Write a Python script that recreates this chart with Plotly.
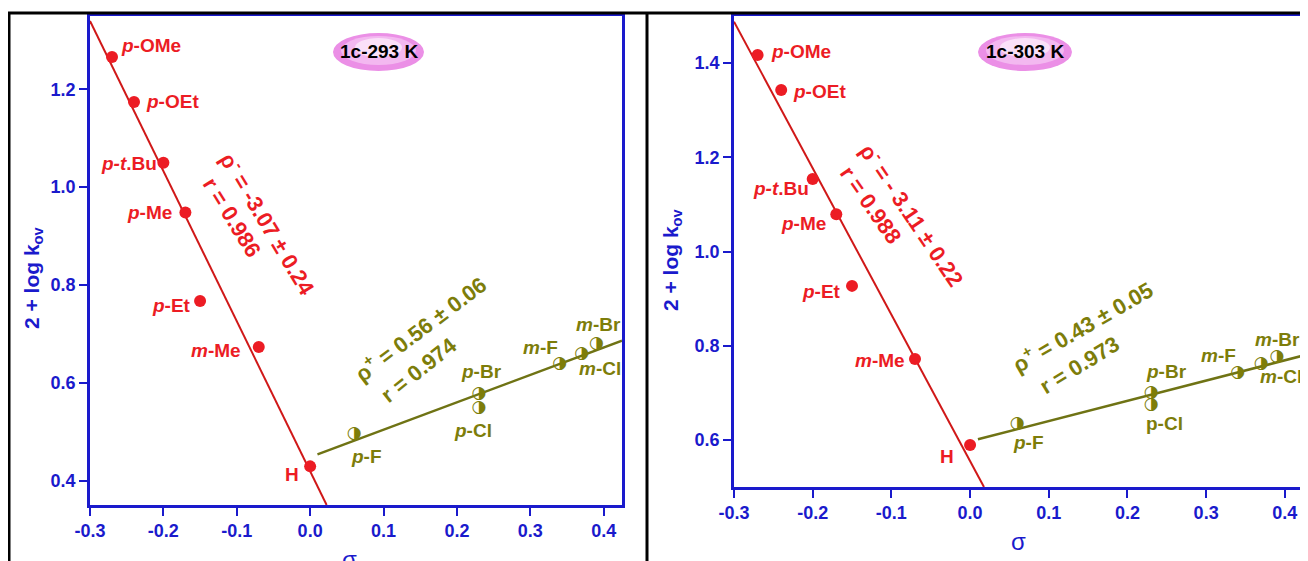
import plotly.graph_objects as go

W, H = 1308, 561
OFF = 8  # page body margin compensation

# ---------------- data ----------------
red_subs = ["p-OMe", "p-OEt", "p-t.Bu", "p-Me", "p-Et", "m-Me", "H"]
red_sigma = [-0.27, -0.24, -0.20, -0.17, -0.15, -0.07, 0.00]
red_293 = [1.266, 1.174, 1.050, 0.948, 0.767, 0.673, 0.429]
red_303 = [1.417, 1.343, 1.154, 1.079, 0.927, 0.772, 0.589]

olive_subs = ["p-F", "p-Br", "p-Cl", "m-F", "m-Cl", "m-Br"]
olive_sigma = [0.06, 0.23, 0.23, 0.34, 0.37, 0.39]
olive_293 = [0.496, 0.578, 0.548, 0.638, 0.660, 0.680]
olive_303 = [0.635, 0.700, 0.674, 0.743, 0.762, 0.777]

# fitted Hammett lines (slope, intercept)
fit_red_293 = (-3.07, 0.419)
fit_red_303 = (-3.11, 0.555)
fit_olive_293 = (0.56, 0.448)
fit_olive_303 = (0.43, 0.597)

x_tickvals = [-0.3, -0.2, -0.1, 0.0, 0.1, 0.2, 0.3, 0.4]
x_ticktext = ["-0.3", "-0.2", "-0.1", "0.0", "0.1", "0.2", "0.3", "0.4"]
y_tickvals_293 = [0.4, 0.6, 0.8, 1.0, 1.2]
y_tickvals_303 = [0.6, 0.8, 1.0, 1.2, 1.4]
y_ticktext_293 = ["0.4", "0.6", "0.8", "1.0", "1.2"]
y_ticktext_303 = ["0.6", "0.8", "1.0", "1.2", "1.4"]

panel_titles = ["1c-293 K", "1c-303 K"]
eq_red = ["\u03c1<sup>-</sup> = -3.07 \u00b1 0.24", "\u03c1<sup>-</sup> = - 3.11 \u00b1 0.22"]
r_red = ["r = 0.986", "r = 0.988"]
eq_olive = ["\u03c1<sup>+</sup> = 0.56 \u00b1 0.06", "\u03c1<sup>+</sup> = 0.43 \u00b1 0.05"]
r_olive = ["r = 0.974", "r = 0.973"]

# label markup
label_html = {
    "p-OMe": "<i>p</i>-OMe", "p-OEt": "<i>p</i>-OEt", "p-t.Bu": "<i>p-t</i>.Bu",
    "p-Me": "<i>p</i>-Me", "p-Et": "<i>p</i>-Et", "m-Me": "<i>m</i>-Me", "H": "H",
    "p-F": "<i>p</i>-F", "p-Br": "<i>p</i>-Br", "p-Cl": "<i>p</i>-Cl",
    "m-F": "<i>m</i>-F", "m-Cl": "<i>m</i>-Cl", "m-Br": "<i>m</i>-Br",
}

# ---------------- styles / layout ----------------
RED = "#ec1c24"
RED_LINE = "#d01818"
OLIVE = "#7d7d0a"
OLIVE_LINE = "#6f7314"
BLUE = "#1a1acc"
FONT = "Liberation Sans, Arial, sans-serif"

X_RANGE = [-0.3, 0.425]
Y_RANGE_293 = [0.35, 1.35]
Y_RANGE_303 = [0.5, 1.5]

def px(x):
    return (x - OFF) / W

def py(y):
    return 1 - (y - OFF) / H

# label offsets (anchor, dx, dy in px; dy downward)
off_red_293 = [("left", 7, -12), ("left", 10, -1), ("right", -4, 1), ("right", -11, 0),
               ("right", -7, 4), ("right", -16, 3), ("right", -9, 8)]
off_olive_293 = [("left", -5, 23), ("center", 3, -22), ("center", -6, 22),
                 ("right", 0, -17), ("left", -5, 15), ("center", 2, -19)]
off_red_303 = [("left", 11, -4), ("left", 10, 2), ("right", -2, 10), ("right", -8, 9),
               ("right", -9, 6), ("right", -8, 2), ("right", -14, 11)]
off_olive_303 = [("left", -6, 19), ("left", -7, -21), ("left", -7, 18),
                 ("right", 0, -17), ("left", -3, 13), ("center", 1, -17)]

fig = go.Figure()

panels = [
    dict(xa="x", ya="y", red=red_293, olive=olive_293, fr=fit_red_293, fo=fit_olive_293,
         yr=Y_RANGE_293, offr=off_red_293, offo=off_olive_293),
    dict(xa="x2", ya="y2", red=red_303, olive=olive_303, fr=fit_red_303, fo=fit_olive_303,
         yr=Y_RANGE_303, offr=off_red_303, offo=off_olive_303),
]

annotations = []
for i, p in enumerate(panels):
    m, b = p["fr"]
    x_end = (p["yr"][0] - b) / m
    fig.add_trace(go.Scatter(x=[X_RANGE[0], x_end], y=[m * X_RANGE[0] + b, p["yr"][0]],
                             mode="lines", line=dict(color=RED_LINE, width=2),
                             xaxis=p["xa"], yaxis=p["ya"], showlegend=False, hoverinfo="skip"))
    mo, bo = p["fo"]
    xs = [0.01, X_RANGE[1]]
    fig.add_trace(go.Scatter(x=xs, y=[mo * v + bo for v in xs], mode="lines",
                             line=dict(color=OLIVE_LINE, width=2.5),
                             xaxis=p["xa"], yaxis=p["ya"], showlegend=False, hoverinfo="skip"))
    fig.add_trace(go.Scatter(x=red_sigma, y=p["red"], mode="markers",
                             marker=dict(color=RED, size=12, line=dict(width=0)),
                             xaxis=p["xa"], yaxis=p["ya"], showlegend=False))
    fig.add_trace(go.Scatter(x=olive_sigma, y=p["olive"], mode="text",
                             text=["\u25d1"] * len(olive_sigma), textposition="middle center",
                             textfont=dict(family="DejaVu Sans", size=17, color=OLIVE),
                             xaxis=p["xa"], yaxis=p["ya"], showlegend=False))
    for subs, xs_, ys, offs, col in [(red_subs, red_sigma, p["red"], p["offr"], RED),
                                     (olive_subs, olive_sigma, p["olive"], p["offo"], OLIVE)]:
        for s, xv, yv, (anc, dx, dy) in zip(subs, xs_, ys, offs):
            txt = label_html[s]
            if i == 1 and s == "p-Cl":
                txt = "p-Cl"
            annotations.append(dict(x=xv, y=yv, xref=p["xa"], yref=p["ya"], text="<b>" + txt + "</b>",
                                    showarrow=False, xanchor=anc, yanchor="middle",
                                    xshift=dx, yshift=-dy,
                                    font=dict(family=FONT, size=19, color=col)))

# ellipse badges
badges = [(333, 424, 33, 71, 378.5, 52), (978, 1072, 33, 71, 1025, 52)]
shapes = []
for (x0, x1, y0, y1, cx, cy), t in zip(badges, panel_titles):
    shapes.append(dict(type="circle", xref="paper", yref="paper", x0=px(x0), x1=px(x1),
                       y0=py(y1), y1=py(y0), fillcolor="#eb8fe6", line=dict(width=0), layer="below"))
    shapes.append(dict(type="circle", xref="paper", yref="paper", x0=px(x0 + 8), x1=px(x1 - 8),
                       y0=py(y1 - 6), y1=py(y0 + 3), fillcolor="#f3b8f0", line=dict(width=0), layer="below"))
    shapes.append(dict(type="circle", xref="paper", yref="paper", x0=px(x0 + 22), x1=px(x1 - 22),
                       y0=py(y1 - 14), y1=py(y0 + 5), fillcolor="#fae0f8", line=dict(width=0), layer="below"))
    annotations.append(dict(x=px(cx), y=py(cy), xref="paper", yref="paper", text="<b>" + t + "</b>",
                            xanchor="center", yanchor="middle",
                            showarrow=False, font=dict(family=FONT, size=19, color="black")))

# black frames
for (x0, y0, x1, y1) in [(8, 13, 1320, 13), (9, 13, 9, 575), (647, 13, 647, 575)]:
    shapes.append(dict(type="line", xref="paper", yref="paper", x0=px(x0), x1=px(x1),
                       y0=py(y0), y1=py(y1), line=dict(color="black", width=3)))

# rotated equations
eqs = [
    (eq_red[0], 268.5, 223, 59, RED), (r_red[0], 231.7, 218, 58, RED),
    (eq_olive[0], 420, 328, -37, OLIVE), (r_olive[0], 418, 370, -38.5, OLIVE),
    (eq_red[1], 912.5, 214, 56, RED), (r_red[1], 870, 205, 55, RED),
    (eq_olive[1], 1082, 325.5, -30, OLIVE), (r_olive[1], 1079, 365, -31.5, OLIVE),
]
for t, cx, cy, ang, col in eqs:
    annotations.append(dict(x=px(cx), y=py(cy), xref="paper", yref="paper", text="<b>" + t + "</b>",
                            xanchor="center", yanchor="middle",
                            showarrow=False, textangle=ang,
                            font=dict(family=FONT, size=22, color=col)))

# axis titles
for cx, cy in [(33, 278), (672, 260)]:
    annotations.append(dict(x=px(cx), y=py(cy), xref="paper", yref="paper",
                            text="<b>2 + log k<sub>ov</sub></b>", showarrow=False, textangle=-90,
                            xanchor="center", yanchor="middle",
                            font=dict(family=FONT, size=21, color=BLUE)))
for cx, cy in [(349, 559), (1018, 541)]:
    annotations.append(dict(x=px(cx), y=py(cy), xref="paper", yref="paper", text="\u03c3",
                            xanchor="center", yanchor="middle",
                            showarrow=False, font=dict(family=FONT, size=24, color=BLUE)))

axis_common = dict(showline=True, linecolor=BLUE, linewidth=2.5, mirror=True, ticks="outside",
                   ticklen=8, tickwidth=2, tickcolor=BLUE, showgrid=False, zeroline=False,
                   tickfont=dict(family=FONT, size=18, color=BLUE, weight="bold"))

fig.update_layout(
    width=W, height=H, margin=dict(l=0, r=0, t=0, b=0, autoexpand=False),
    paper_bgcolor="white", plot_bgcolor="white",
    xaxis=dict(domain=[px(90), px(622)], range=X_RANGE, tickvals=x_tickvals, ticktext=x_ticktext,
               anchor="y", **axis_common),
    yaxis=dict(domain=[py(505), py(16)], range=Y_RANGE_293, tickvals=y_tickvals_293,
               ticktext=y_ticktext_293, anchor="x", **axis_common),
    xaxis2=dict(domain=[px(734), px(1304.5)], range=X_RANGE, tickvals=x_tickvals, ticktext=x_ticktext,
                anchor="y2", **axis_common),
    yaxis2=dict(domain=[py(487), py(16)], range=Y_RANGE_303, tickvals=y_tickvals_303,
                ticktext=y_ticktext_303, anchor="x2", **axis_common),
    shapes=shapes, annotations=annotations, showlegend=False,
)

fig.write_html("out.html")
